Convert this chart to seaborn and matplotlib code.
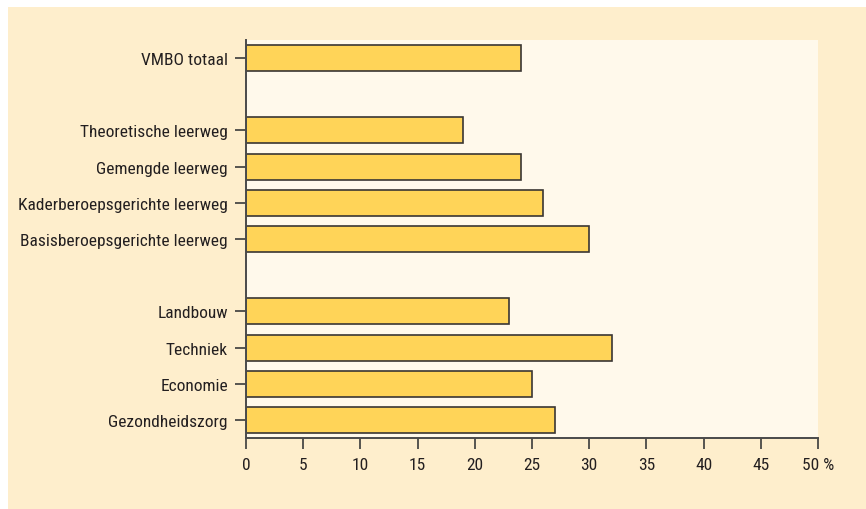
import matplotlib
matplotlib.use("Agg")
import matplotlib.pyplot as plt
from matplotlib import font_manager
import seaborn as sns
import pandas as pd
import numpy as np
from matplotlib.patches import Rectangle

categories = ["VMBO totaal", "", "Theoretische leerweg", "Gemengde leerweg",
              "Kaderberoepsgerichte leerweg", "Basisberoepsgerichte leerweg", " ",
              "Landbouw", "Techniek", "Economie", "Gezondheidszorg"]
values = [24, np.nan, 19, 24, 26, 30, np.nan, 23, 32, 25, 27]
xticks = [0, 5, 10, 15, 20, 25, 30, 35, 40, 45, 50]
xticklabels = ["0", "5", "10", "15", "20", "25", "30", "35", "40", "45", "50 %"]

sns.set_theme(style="white")
names = {f.name for f in font_manager.fontManager.ttflist}
prefs = ["Liberation Sans Narrow", "Roboto Condensed", "Open Sans Condensed",
         "Noto Sans Condensed", "DejaVu Sans Condensed", "Roboto", "Lato"]
chosen = [p for p in prefs if p in names]
plt.rcParams['font.family'] = (chosen[:1] or []) + ['DejaVu Sans']
plt.rcParams['font.stretch'] = 'condensed'

outer = "#feeecc"
inner = "#fff9eb"
barcol = "#ffd458"
edge = "#3a3633"
textc = "#231f20"

fig = plt.figure(figsize=(8.66, 5.10), dpi=100, facecolor="white")
bgrect = Rectangle((8/866, 0), 1 - 8/866, (510-8)/510,
                   transform=fig.transFigure, facecolor=outer,
                   edgecolor="none", zorder=-10)
fig.patches.append(bgrect)
ax = fig.add_axes([246/866, (510-439)/510, 572/866, 398/510])
ax.set_zorder(5)
ax.set_facecolor(inner)

df = pd.DataFrame({"cat": categories, "val": values})
sns.barplot(data=df, y="cat", x="val", order=categories, orient="h",
            color=barcol, saturation=1, width=0.72, edgecolor=edge,
            linewidth=1.2, ax=ax)

ax.set_xlim(0, 50)
ax.set_ylim(10.5, -0.5)
ax.set_xticks(xticks)
ax.set_xticklabels(xticklabels, fontsize=12.5, color=textc)
real = [i for i, c in enumerate(categories) if c.strip()]
ax.set_yticks(real)
ax.set_yticklabels([categories[i] for i in real], fontsize=12.5, color=textc)
ax.set_xlabel("")
ax.set_ylabel("")
for s in ["top", "right"]:
    ax.spines[s].set_visible(False)
for s in ["left", "bottom"]:
    ax.spines[s].set_color("#4a4a4a")
    ax.spines[s].set_linewidth(1.4)
ax.tick_params(axis="both", direction="out", length=8, width=1.2,
               color="#3a3a3a", bottom=True, left=True)
ax.tick_params(axis="x", pad=6)
ax.tick_params(axis="y", pad=5)
ax.grid(False)

fig.savefig("out.png", dpi=100, facecolor="white")
